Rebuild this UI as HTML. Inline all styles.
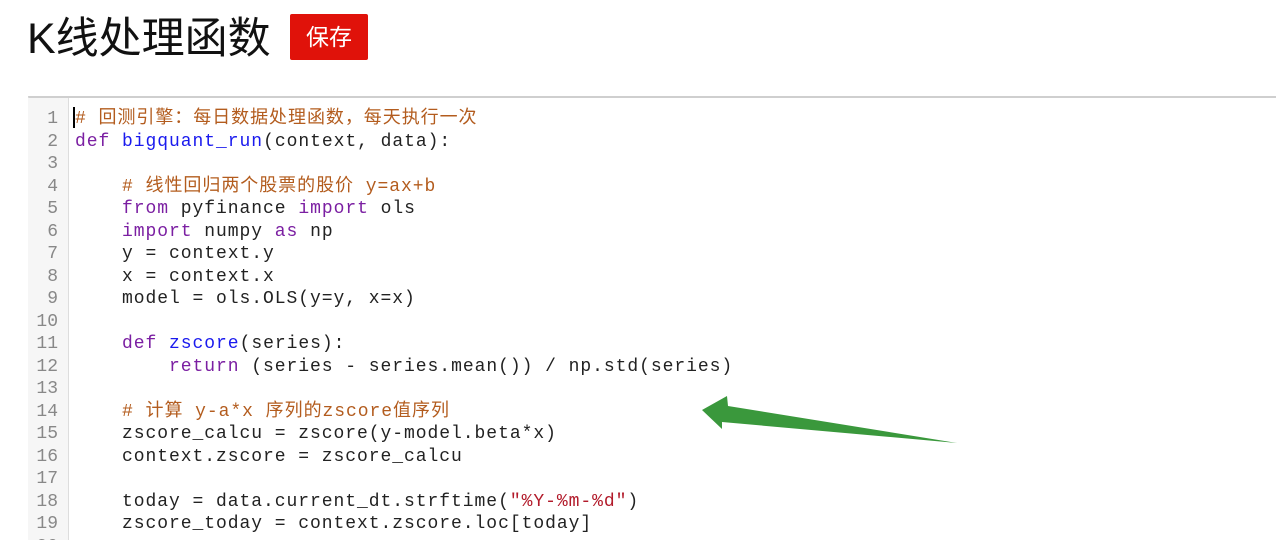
<!DOCTYPE html>
<html><head><meta charset="utf-8"><style>
html,body{margin:0;padding:0;background:#fff;width:1276px;height:540px;overflow:hidden;position:relative}
.title{position:absolute;left:27px;top:11px;font:43px "Liberation Sans","Noto Sans CJK SC",sans-serif;color:#111;line-height:56px;white-space:nowrap}
.btn{position:absolute;left:290px;top:14px;width:78px;height:46px;background:#e0120a;border-radius:2px;color:#fff;font:23px "Liberation Sans","Noto Sans CJK SC",sans-serif;line-height:46px;text-align:center}
.ed{position:absolute;left:28px;top:96px;width:1260px;height:460px;border-top:2px solid #cfcfcf;border-left:1px solid #ddd}
.gut{position:absolute;left:28px;top:98px;width:40px;height:460px;background:#f6f6f6;border-right:1px solid #ddd}
.ln{position:absolute;left:28px;top:108px;width:30px;text-align:right;font:18px "Liberation Mono",monospace;color:#888;line-height:22.5px}
.code{position:absolute;left:75px;top:108px;font:18px "Liberation Mono","Noto Sans CJK SC",monospace;letter-spacing:0.95px;line-height:22.5px;color:#222;white-space:pre}
.c{color:#b35c1e}.k{color:#7b1fa2}.f{color:#1a1aee}.s{color:#b21a2a}
.cur{position:absolute;left:73px;top:107px;width:2px;height:21px;background:#000}
</style></head><body>
<div class="title">K线处理函数</div>
<div class="btn">保存</div>
<div class="ed"></div>
<div class="gut"></div>
<div class="ln">1<br>2<br>3<br>4<br>5<br>6<br>7<br>8<br>9<br>10<br>11<br>12<br>13<br>14<br>15<br>16<br>17<br>18<br>19<br>20</div>
<div class="cur"></div>
<div class="code"><span class="c"># 回测引擎：每日数据处理函数，每天执行一次</span>
<span class="k">def</span> <span class="f">bigquant_run</span>(context, data):

    <span class="c"># 线性回归两个股票的股价 y=ax+b</span>
    <span class="k">from</span> pyfinance <span class="k">import</span> ols
    <span class="k">import</span> numpy <span class="k">as</span> np
    y = context.y
    x = context.x
    model = ols.OLS(y=y, x=x)

    <span class="k">def</span> <span class="f">zscore</span>(series):
        <span class="k">return</span> (series - series.mean()) / np.std(series)

    <span class="c"># 计算 y-a*x 序列的zscore值序列</span>
    zscore_calcu = zscore(y-model.beta*x)
    context.zscore = zscore_calcu

    today = data.current_dt.strftime(<span class="s">"%Y-%m-%d"</span>)
    zscore_today = context.zscore.loc[today]
</div>
<svg style="position:absolute;left:0;top:0" width="1276" height="540">
<polygon points="702,410 727,396 728,406 957,443 722,422 722,429" fill="#3a983c"/>
</svg>
</body></html>
